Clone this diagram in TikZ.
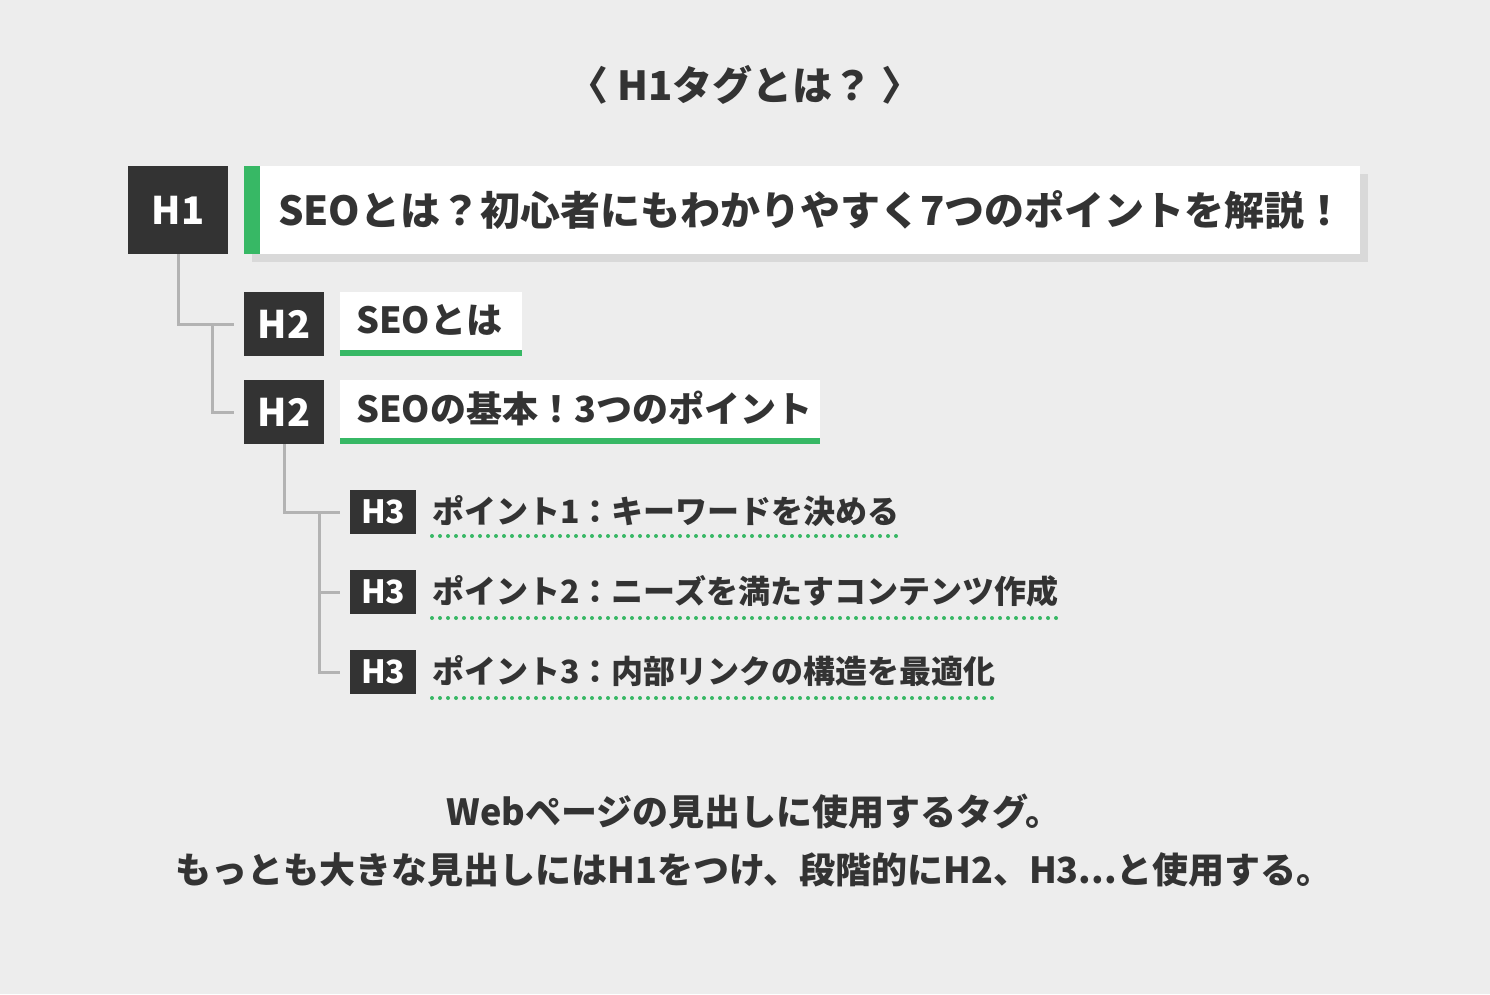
\documentclass[tikz,border=0pt]{standalone}
\usepackage{fontspec}
\setmainfont{Noto Sans CJK JP}
\usetikzlibrary{positioning}
\definecolor{bgc}{HTML}{EDEDED}
\definecolor{ink}{HTML}{333333}
\definecolor{leaf}{HTML}{37B865}
\definecolor{branch}{HTML}{B3B3B3}
\definecolor{dropgray}{HTML}{D9D9D9}
\newcommand\fsA{\fontsize{40}{48}\selectfont}
\newcommand\fsL{\fontsize{38}{46}\selectfont}
\newcommand\fsB{\fontsize{36}{44}\selectfont}
\newcommand\fsC{\fontsize{32}{40}\selectfont}
\tikzset{
  tagbox/.style={fill=ink, text=white, inner sep=0pt, anchor=north west, font=\bfseries},
  headtext/.style={text=ink, inner sep=0pt, anchor=west, font=\bfseries},
  tree/.style={draw=branch, line width=3pt},
  dotline/.style={draw=leaf, line width=4pt, line cap=round, dash pattern=on 0pt off 8pt}
}

\begin{document}
\begin{tikzpicture}[x=1pt,y=-1pt]
\fill[bgc] (0,0) rectangle (1490,994);
\useasboundingbox (0,0) rectangle (1490,994);

\node[headtext,anchor=center,font=\bfseries\fsA] (title) at (745,85) {〈 H1タグとは？ 〉};

% H1
\fill[dropgray] (252,174) rectangle (1368,262);
\node[fill=white,anchor=north west,minimum width=1116,minimum height=88,inner sep=0pt] (h1back) at (244,166) {};
\node[tagbox,minimum width=100,minimum height=88,font=\bfseries\fsL] (h1) at (128,166) {H1};
\fill[leaf] (h1back.north west) rectangle ++(16,88);
\node[headtext,font=\bfseries\fsA] (h1txt) at (278,210) {SEOとは？初心者にもわかりやすく7つのポイントを解説！};

% H2
\node[tagbox,minimum width=80,minimum height=64,font=\bfseries\fsL] (h2a) at (244,292) {H2};
\node[tagbox,minimum width=80,minimum height=64,font=\bfseries\fsL] (h2b) at (244,380) {H2};
\fill[white] (340,292) rectangle (522,356);
\fill[leaf] (340,350) rectangle (522,356);
\fill[white] (340,380) rectangle (820,444);
\fill[leaf] (340,438) rectangle (820,444);
\node[headtext,font=\bfseries\fsB] (h2atxt) at (356,320) {SEOとは};
\node[headtext,font=\bfseries\fsB] (h2btxt) at (356,408) {SEOの基本！3つのポイント};

% H3
\node[tagbox,minimum width=66,minimum height=44,font=\bfseries\fsC] (h3a) at (350,490) {H3};
\node[tagbox,minimum width=66,minimum height=44,font=\bfseries\fsC] (h3b) at (350,570) {H3};
\node[tagbox,minimum width=66,minimum height=44,font=\bfseries\fsC] (h3c) at (350,650) {H3};
\node[headtext,font=\bfseries\fsC] (h3atxt) at (432,511) {ポイント1：キーワードを決める};
\node[headtext,font=\bfseries\fsC] (h3btxt) at (432,591) {ポイント2：ニーズを満たすコンテンツ作成};
\node[headtext,font=\bfseries\fsC] (h3ctxt) at (432,671) {ポイント3：内部リンクの構造を最適化};
\draw[dotline] ([yshift=-25pt]h3atxt.west) -- ([yshift=-25pt]h3atxt.east);
\draw[dotline] ([yshift=-27pt]h3btxt.west) -- ([yshift=-27pt]h3btxt.east);
\draw[dotline] ([yshift=-27pt]h3ctxt.west) -- ([yshift=-27pt]h3ctxt.east);

% tree lines
\draw[tree] (h1.south) |- ([xshift=-10pt]h2a.west);
\draw[tree] ([xshift=34pt]h1.south |- h2a.west) |- ([xshift=-10pt]h2b.west);
\draw[tree] (h2b.south) |- ([xshift=-10pt]h3a.west);
\draw[tree] ([xshift=35pt]h2b.south |- h3a.west) |- ([xshift=-10pt]h3c.west);
\draw[tree] ([xshift=35pt]h2b.south |- h3b.west) -- ([xshift=-10pt]h3b.west);

\node[headtext,anchor=center,font=\bfseries\fsB] (note1) at (754,811) {Webページの見出しに使用するタグ。};
\node[headtext,anchor=center,font=\bfseries\fsB] (note2) at (754,870) {もっとも大きな見出しにはH1をつけ、段階的にH2、H3...と使用する。};
\end{tikzpicture}
\end{document}
